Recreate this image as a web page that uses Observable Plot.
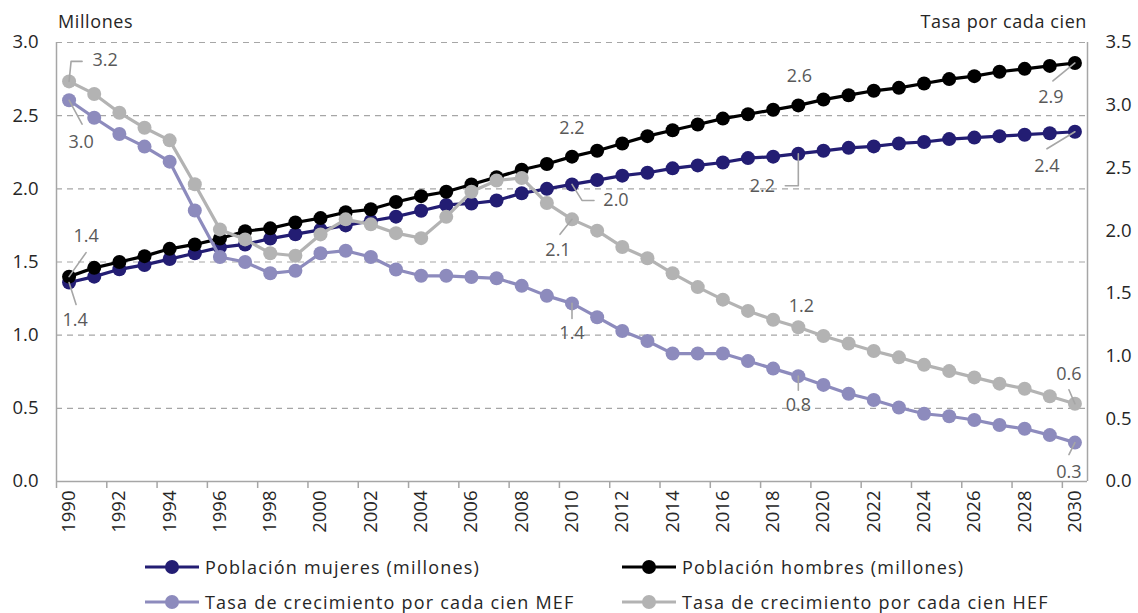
<!DOCTYPE html>
<html><head><meta charset="utf-8">
<script src="https://cdn.jsdelivr.net/npm/d3@7"></script>
<script src="https://cdn.jsdelivr.net/npm/@observablehq/plot@0.6"></script>
<style>
body{margin:0;background:#fff;}
#wrap{position:relative;width:1138px;height:613px;overflow:hidden;font-family:"Open Sans",sans-serif;color:#262626;}
.ttl{position:absolute;top:9px;font-size:18px;letter-spacing:0.6px;}
#chart{position:absolute;left:0;top:0;}
.leg{position:absolute;display:flex;align-items:center;font-size:18px;letter-spacing:1.2px;white-space:nowrap;line-height:22px;}
.leg svg{margin-right:6px;}
</style></head>
<body><div id="wrap">
<div id="chart"></div>
<div class="ttl" style="left:58px">Millones</div>
<div class="ttl" style="right:51px">Tasa por cada cien</div>
<div id="legend"></div>
</div>
<script>
const years = [1990,1991,1992,1993,1994,1995,1996,1997,1998,1999,2000,2001,2002,2003,2004,2005,2006,2007,2008,2009,2010,2011,2012,2013,2014,2015,2016,2017,2018,2019,2020,2021,2022,2023,2024,2025,2026,2027,2028,2029,2030];
const mujeres = [1.36,1.40,1.45,1.48,1.52,1.56,1.60,1.62,1.66,1.69,1.72,1.75,1.78,1.81,1.85,1.89,1.90,1.92,1.97,2.00,2.03,2.06,2.09,2.11,2.14,2.16,2.18,2.21,2.22,2.24,2.26,2.28,2.29,2.31,2.32,2.34,2.35,2.36,2.37,2.38,2.39];
const hombres = [1.40,1.46,1.50,1.54,1.59,1.62,1.66,1.71,1.73,1.77,1.80,1.84,1.86,1.91,1.95,1.98,2.03,2.08,2.13,2.17,2.22,2.26,2.31,2.36,2.40,2.44,2.48,2.51,2.54,2.57,2.61,2.64,2.67,2.69,2.72,2.75,2.77,2.80,2.82,2.84,2.86];
const tasaMEF = [3.04,2.90,2.77,2.67,2.55,2.16,1.79,1.75,1.66,1.68,1.82,1.84,1.79,1.69,1.64,1.64,1.63,1.62,1.56,1.48,1.42,1.31,1.20,1.12,1.02,1.02,1.02,0.96,0.90,0.84,0.77,0.70,0.65,0.59,0.54,0.52,0.49,0.45,0.42,0.37,0.31];
const tasaHEF = [3.19,3.09,2.94,2.82,2.72,2.37,2.01,1.93,1.82,1.80,1.97,2.09,2.05,1.98,1.94,2.11,2.31,2.40,2.42,2.22,2.09,2.00,1.87,1.78,1.66,1.55,1.45,1.36,1.29,1.23,1.16,1.10,1.04,0.99,0.93,0.88,0.83,0.78,0.74,0.68,0.62];
const seriesNames = ["Población mujeres (millones)","Población hombres (millones)","Tasa de crecimiento por cada cien MEF","Tasa de crecimiento por cada cien HEF"];
const seriesColors = ["#231d73","#000000","#8d8bbd","#b3b3b3"];
const leftTicks = [0,0.5,1.0,1.5,2.0,2.5,3.0];
const rightTicks = [0,0.5,1.0,1.5,2.0,2.5,3.0,3.5];
const xTickYears = [1990,1992,1994,1996,1998,2000,2002,2004,2006,2008,2010,2012,2014,2016,2018,2020,2022,2024,2026,2028,2030];
// data labels: series index, year, text; offsets in px (text centre, leader path)
const labels = [
  {s:3, year:1990, text:"3.2", tx:36, ty:-21, path:[[0,0],[2,-20],[13,-20]]},
  {s:2, year:1990, text:"3.0", tx:12, ty:42, path:[[0,0],[13,24]]},
  {s:1, year:1990, text:"1.4", tx:17, ty:-40, path:[[0,0],[17,-24]]},
  {s:0, year:1990, text:"1.4", tx:6, ty:38, path:[[0,0],[7,22]]},
  {s:1, year:2010, text:"2.2", tx:0, ty:-28, path:null},
  {s:0, year:2010, text:"2.0", tx:44, ty:16, path:[[0,0],[10,16],[22,16]]},
  {s:3, year:2010, text:"2.1", tx:-14, ty:31, path:[[0,0],[-12,15]]},
  {s:2, year:2010, text:"1.4", tx:0, ty:30, path:[[0,0],[0,15]]},
  {s:1, year:2019, text:"2.6", tx:1, ty:-29, path:null},
  {s:0, year:2019, text:"2.2", tx:-36, ty:33, path:[[0,0],[0,32],[-13,32]]},
  {s:1, year:2030, text:"2.9", tx:-24, ty:34, path:[[0,0],[-22,18]]},
  {s:0, year:2030, text:"2.4", tx:-28, ty:34, path:[[0,0],[-28,17]]},
  {s:3, year:2019, text:"1.2", tx:3, ty:-21, path:null},
  {s:2, year:2019, text:"0.8", tx:0, ty:29, path:[[0,0],[0,14]]},
  {s:3, year:2030, text:"0.6", tx:-6, ty:-29, path:[[0,0],[-6,-14]]},
  {s:2, year:2030, text:"0.3", tx:-6, ty:30, path:[[0,0],[-6,12]]}
];

const W = 1138, H = 545, mL = 56, mR = 51, mT = 42, mB = 64;
const xDomain = [years[0]-0.5, years[years.length-1]+0.5];
const yMaxL = 3, yMaxR = 3.5;
const toLeft = v => v * yMaxL / yMaxR;
const pxYear = (W - mL - mR) / (xDomain[1] - xDomain[0]);
const pxUnit = (H - mT - mB) / yMaxL;

const allSeries = [mujeres, hombres, tasaMEF, tasaHEF];
const rows = [];
allSeries.forEach((arr, s) => arr.forEach((v, i) => rows.push({s, year: years[i], v: s >= 2 ? toLeft(v) : v})));
const bySeries = s => rows.filter(r => r.s === s);
const valAt = (s, year) => bySeries(s).find(r => r.year === year).v;

const textRows = labels.map(l => ({text:l.text, x:l.year + l.tx/pxYear, y:valAt(l.s,l.year) - l.ty/pxUnit}));
const leaderRows = [];
labels.forEach((l, k) => { if (l.path) l.path.forEach(([dx,dy]) => leaderRows.push({k, x:l.year + dx/pxYear, y:valAt(l.s,l.year) - dy/pxUnit})); });
const boundaries = xTickYears.map(y => y - 0.5);
const gridVals = leftTicks.filter(v => v > 0);

const marks = [
  Plot.ruleY(gridVals, {stroke:"#a6a6a6", strokeWidth:1.2, strokeDasharray:"6,5"}),
  Plot.ruleY([0], {stroke:"#a6a6a6", strokeWidth:1.5}),
  Plot.ruleX(xDomain, {stroke:"#a6a6a6", strokeWidth:1.5}),
  Plot.axisY({anchor:"left", ticks:leftTicks, tickSize:0, tickPadding:18, tickFormat:d=>d.toFixed(1), label:null, fontSize:18.5}),
  Plot.axisY({anchor:"right", ticks:rightTicks.map(toLeft), tickSize:0, tickPadding:18, tickFormat:d=>(d*yMaxR/yMaxL).toFixed(1), label:null, fontSize:18.5}),
  Plot.axisX({ticks:boundaries, tickSize:7, tickFormat:()=>"", stroke:"#a6a6a6", strokeWidth:1.5, label:null}),
  Plot.axisX({ticks:xTickYears, tickSize:0, tickPadding:9, tickRotate:-90, tickFormat:d=>String(d), label:null, fontSize:18.5})
];
[0,1,2,3].forEach(s => {
  marks.push(Plot.line(bySeries(s), {x:"year", y:"v", stroke:seriesColors[s], strokeWidth:3.2}));
  marks.push(Plot.dot(bySeries(s), {x:"year", y:"v", r:7, fill:seriesColors[s], stroke:"none"}));
});
marks.push(Plot.line(leaderRows, {x:"x", y:"y", z:"k", stroke:"#a6a6a6", strokeWidth:1.6}));
marks.push(Plot.text(textRows, {x:"x", y:"y", text:"text", fill:"#595959", fontSize:18}));

const chart = Plot.plot({
  width:W, height:H, marginLeft:mL, marginRight:mR, marginTop:mT, marginBottom:mB,
  style:{fontFamily:'"Open Sans", sans-serif', fontSize:"18px", color:"#262626", background:"white", overflow:"visible"},
  x:{type:"linear", domain:xDomain},
  y:{domain:[0, yMaxL]},
  marks
});
document.getElementById("chart").appendChild(chart);

// legend
const legPos = [{left:145, top:556},{left:622, top:556},{left:145, top:591},{left:622, top:591}];
const legend = document.getElementById("legend");
seriesNames.forEach((name, s) => {
  const d = document.createElement("div");
  d.className = "leg";
  d.style.left = legPos[s].left + "px";
  d.style.top = legPos[s].top + "px";
  d.innerHTML = `<svg width="54" height="22"><line x1="0" x2="54" y1="11" y2="11" stroke="${seriesColors[s]}" stroke-width="3.2"/><circle cx="27" cy="11" r="7" fill="${seriesColors[s]}"/></svg><span>${name}</span>`;
  legend.appendChild(d);
});
</script>
</body></html>
